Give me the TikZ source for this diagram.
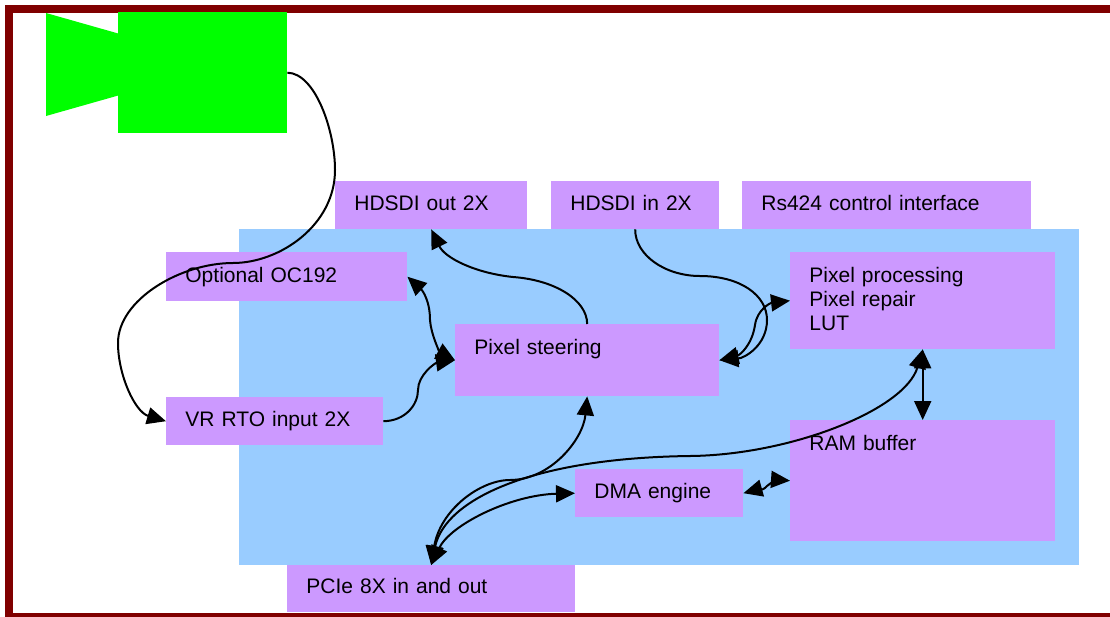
\documentclass[tikz,border=0pt]{standalone}
\usepackage{fontspec}
\setmainfont{Liberation Sans}
\usepackage{xcolor}
\usetikzlibrary{arrows.meta}
\definecolor{darkframe}{HTML}{800000}
\definecolor{boxpurple}{HTML}{CC99FF}
\definecolor{boardblue}{HTML}{99CCFF}
\definecolor{camgreen}{HTML}{00FF00}
\tikzset{
    pinkbox/.style={fill=boxpurple, anchor=north west, inner xsep=19.2pt, inner ysep=0pt, align=left,
        text height=29pt, font=\fontsize{21}{24}\selectfont},
    wire/.style={line width=2pt, black},
    tip/.style={-{Triangle[length=19pt,width=17pt]}},
    tips/.style={{Triangle[length=19pt,width=17pt]}-{Triangle[length=19pt,width=17pt]}}
}

\begin{document}
\begin{tikzpicture}[x=1pt,y=-1pt]
    \useasboundingbox (0,0) rectangle (1110,616);
    \clip (0,0) rectangle (1110,616);
    % Frame
    \draw[darkframe, line width=8pt] (9,9) rectangle (1120,616.5);

    % Camera
    \fill[camgreen] (46,13) -- (120,34) -- (120,95) -- (46,116) -- cycle;
    \node[fill=camgreen, anchor=north west, inner sep=0pt, minimum width=169pt, minimum height=121pt] (cam) at (118,12) {};

    % Board
    \node[fill=boardblue, anchor=north west, inner sep=0pt, minimum width=840pt, minimum height=336pt] (board) at (239,229) {};

    % Interfaces
    \node[pinkbox, text width=153.6pt, text depth=19pt] (hdout) at (335,181) {HDSDI out 2X};
    \node[pinkbox, text width=129.6pt, text depth=19pt] (hdin) at (551,181) {HDSDI in 2X};
    \node[pinkbox, text width=250.6pt, text depth=19pt] (rsctrl) at (742,181) {Rs424 control interface};
    \node[pinkbox, text width=202.6pt, text height=30pt, text depth=19pt] (oc) at (166,252) {Optional OC192};
    \node[pinkbox, text width=178.6pt, text depth=19pt] (vr) at (166,397) {VR RTO input 2X};
    \node[pinkbox, text width=249.6pt, text height=28.5pt, text depth=18.5pt] (pcie) at (287,565) {PCIe 8X in and out};

    % Blocks
    \node[pinkbox, text width=225.6pt, text height=30pt, text depth=42pt] (steer) at (455,324) {Pixel steering};
    \node[pinkbox, text width=226.6pt, text height=30pt, text depth=67pt] (proc) at (790,252) {Pixel processing\\Pixel repair\\LUT};
    \node[pinkbox, text width=226.6pt, text height=30pt, text depth=91pt] (ram) at (790,420) {RAM buffer};
    \node[pinkbox, text width=129.6pt, text depth=19pt] (dma) at (575,469) {DMA engine};

    % Camera cable
    \draw[wire, tip] (cam.east) .. controls (315,73) and (335,130) .. (335,170)
        .. controls (335,225) and (280,263) .. (233,263)
        .. controls (180,263) and (118,300) .. (118,343)
        .. controls (118,375) and (135,412) .. (vr.west);

    % HDSDI links
    \draw[wire, tip] (steer.north) .. controls (587,300) and (555,280) .. (513,277)
        .. controls (475,273) and (445,258) .. (hdout.south);
    \draw[wire, tip] (hdin.south) .. controls (635,255) and (665,276) .. (700,276)
        .. controls (740,276) and (767,295) .. (767,320)
        .. controls (767,345) and (745,358) .. (steer.east);

    % Steering links
    \draw[wire, tips] (steer.east) .. controls (740,355) and (752,345) .. (755,325)
        .. controls (757,310) and (770,303) .. (proc.west);
    \draw[wire, tips] (oc.east) .. controls (422,290) and (430,300) .. (430,320)
        .. controls (431,335) and (440,352) .. (steer.west);
    \draw[wire, tip] (vr.east) .. controls (405,421) and (418,405) .. (418,390)
        .. controls (418,375) and (435,363) .. (steer.west);

    % PCIe links
    \draw[wire, tips] (pcie.north) .. controls (440,510) and (480,480) .. (510,480)
        .. controls (550,480) and (583,440) .. (steer.south);
    \draw[wire, tips] (pcie.north) .. controls (450,525) and (510,495) .. (dma.west);
    \draw[wire, tips] (pcie.north) .. controls (445,500) and (530,458) .. (690,456)
        .. controls (790,455) and (905,410) .. (proc.south);

    % Buffer links
    \draw[wire, tips] (proc.south) -- (ram.north);
    \draw[wire, tips] (dma.east) .. controls (755,490) and (762,492) .. (767,486)
        .. controls (772,481) and (780,480) .. (ram.west);
\end{tikzpicture}
\end{document}
